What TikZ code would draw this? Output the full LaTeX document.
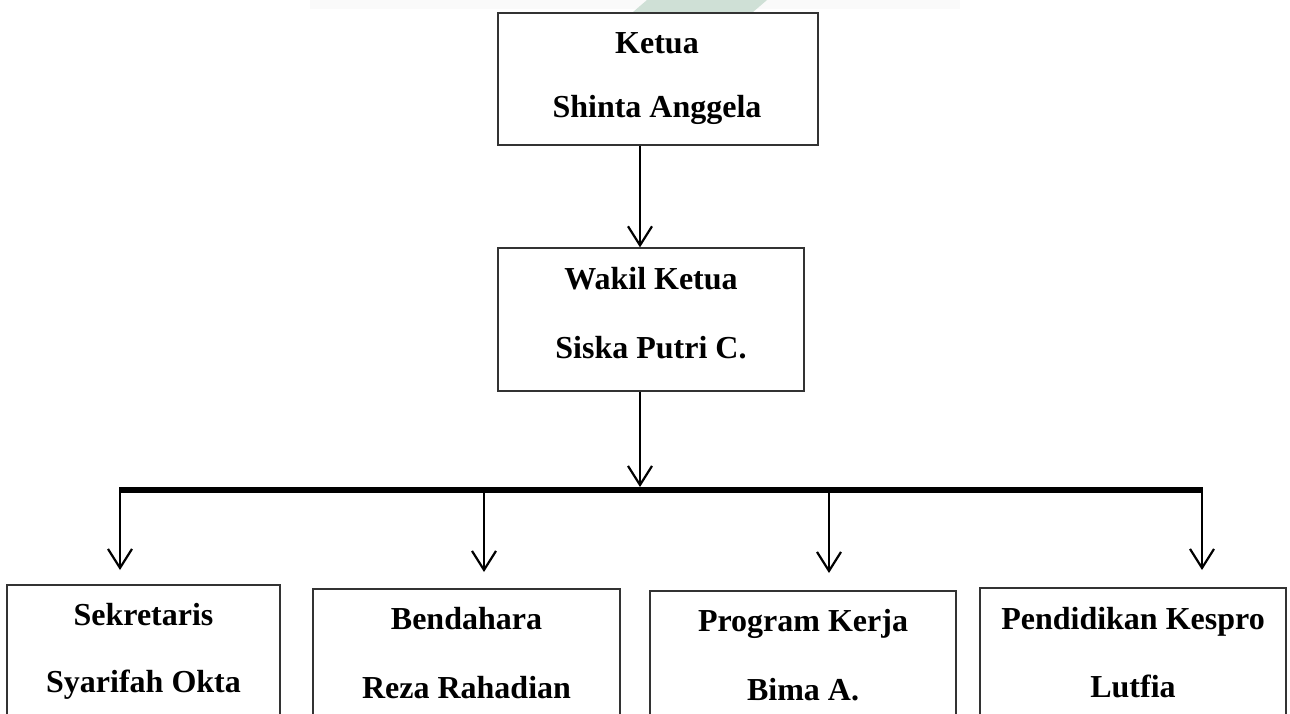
\documentclass[tikz,border=0pt]{standalone}
\usepackage{fontspec}
\setmainfont{Liberation Serif}
\usetikzlibrary{arrows.meta}
\begin{document}
\begin{tikzpicture}[x=1pt,y=-1pt,
  box/.style={draw=black!80, line width=1.3pt, inner sep=0pt},
  lbl/.style={font=\fontsize{32}{38}\selectfont\bfseries, anchor=base, inner sep=0pt},
  conn/.style={line width=2.2pt, -{Straight Barb[length=19pt,width=24pt,line width=2.2pt]}},
  bar/.style={line width=6pt}
]
\useasboundingbox (0,0) rectangle (1290,713);
\clip (0,0) rectangle (1290,713);
% faint watermark at top
\fill[black!2] (310,0) rectangle (960,9);
\fill[color={rgb,255:red,207;green,224;blue,214}] (647,0) -- (767,0) -- (753,12) -- (633,12) -- cycle;

% boxes
\node[box, minimum width=320pt, minimum height=132pt] (ketua) at (658,79) {};
\node[box, minimum width=306pt, minimum height=143pt] (wakil) at (651,319.5) {};
\node[box, minimum width=273pt, minimum height=200pt] (sek) at (143.5,685) {};
\node[box, minimum width=307pt, minimum height=200pt] (bend) at (466.5,689) {};
\node[box, minimum width=306pt, minimum height=200pt] (prog) at (803,691) {};
\node[box, minimum width=306pt, minimum height=200pt] (pend) at (1133,688) {};

% texts
\node[lbl] (tketua) at (657,53) {Ketua};
\node[lbl] (tshinta) at (657,117) {Shinta Anggela};
\node[lbl] (twakil) at (651,289) {Wakil Ketua};
\node[lbl] (tsiska) at (651,358) {Siska Putri C.};
\node[lbl] (tsek) at (143.5,625) {Sekretaris};
\node[lbl] (tsyar) at (143.5,692) {Syarifah Okta};
\node[lbl] (tbend) at (466.5,629) {Bendahara};
\node[lbl] (treza) at (466.5,698) {Reza Rahadian};
\node[lbl] (tprog) at (803,631) {Program Kerja};
\node[lbl] (tbima) at (803,700) {Bima A.};
\node[lbl] (tpend) at (1133,629) {Pendidikan Kespro};
\node[lbl] (tlut) at (1133,697) {Lutfia};

% connector coordinates
\coordinate (ax) at (640,0);
\coordinate (bartop) at (640,487);
\coordinate (barL) at (119,490);
\coordinate (barR) at (1203,490);
\coordinate (d1) at (120,490); \coordinate (e1) at (120,570);
\coordinate (d2) at (484,490); \coordinate (e2) at (484,572);
\coordinate (d3) at (829,490); \coordinate (e3) at (829,573);
\coordinate (d4) at (1202,490); \coordinate (e4) at (1202,570);

\draw[conn] (ketua.south -| ax) -- (wakil.north -| ax);
\draw[conn] (wakil.south -| ax) -- (bartop);
\draw[bar] (barL) -- (barR);
\draw[conn] (d1) -- (e1);
\draw[conn] (d2) -- (e2);
\draw[conn] (d3) -- (e3);
\draw[conn] (d4) -- (e4);
\end{tikzpicture}
\end{document}
